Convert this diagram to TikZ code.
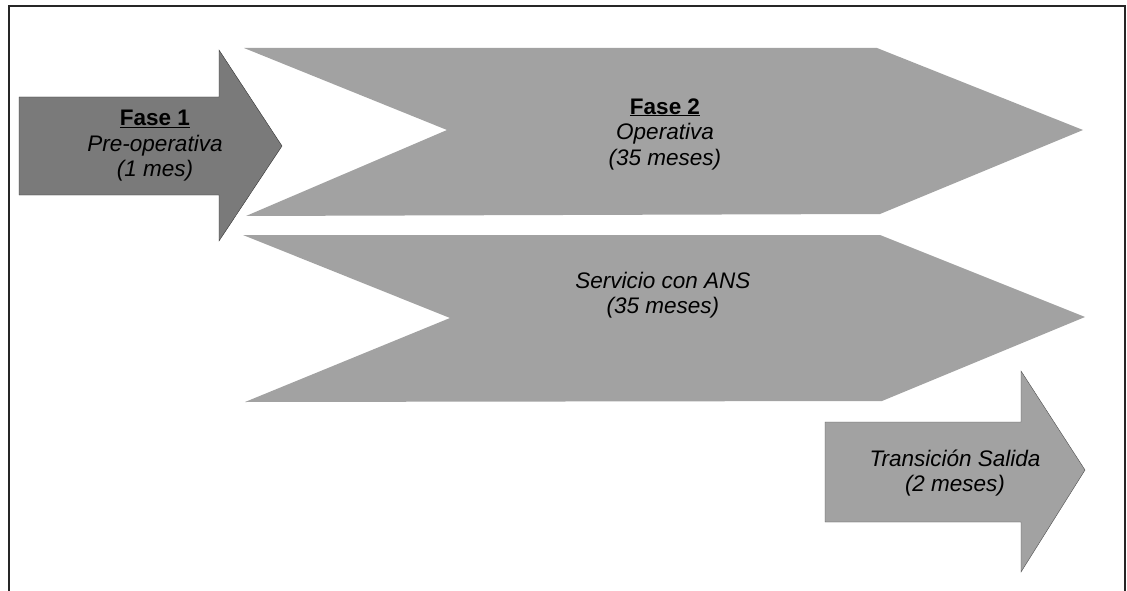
\documentclass[tikz,border=0pt]{standalone}
\usepackage{fontspec}
\setmainfont{Liberation Sans}
\usepackage{xcolor}
\usepackage{tikz}
\definecolor{fasedark}{HTML}{7A7A7A}
\definecolor{faselight}{HTML}{A2A2A2}

\begin{document}
\begin{tikzpicture}[x=1pt,y=-1pt,
  fasetext/.style={align=center,font=\fontsize{22.5}{25.5}\selectfont\itshape}]
  \useasboundingbox (0,0) rectangle (1127,591);
  \draw[black!85, line width=1.2pt] (9,591) -- (9,6) -- (1125,6) -- (1125,591);
  % Fase 1
  \coordinate (P1) at (19,97);   \coordinate (P2) at (219,97);
  \coordinate (P3) at (219,50);  \coordinate (P4) at (282,146);
  \coordinate (P5) at (219,241); \coordinate (P6) at (219,195);
  \coordinate (P7) at (19,195);
  \fill[fasedark, draw=black!80] (P1) -- (P2) -- (P3) -- (P4) -- (P5) -- (P6) -- (P7) -- cycle;
  % Fase 2
  \fill[faselight] (244,48) -- (877,48) -- (1083,130) -- (880,214) -- (246,216) -- (447,130) -- cycle;
  \fill[faselight] (243,235) -- (880,235) -- (1085,317) -- (882,401) -- (245,402) -- (450,318) -- cycle;
  % salida
  \coordinate (S1) at (825,422);  \coordinate (S2) at (1021,422);
  \coordinate (S3) at (1021,371); \coordinate (S4) at (1085,470);
  \coordinate (S5) at (1021,572); \coordinate (S6) at (1021,522);
  \coordinate (S7) at (825,522);
  \fill[faselight, draw=black!70] (S1) -- (S2) -- (S3) -- (S4) -- (S5) -- (S6) -- (S7) -- cycle;
  \node[fasetext] (f1)  at (155,146) {\upshape\bfseries\underline{Fase 1}\\Pre-operativa\\(1 mes)};
  \node[fasetext] (f2)  at (665,134) {\upshape\bfseries\underline{Fase 2}\\Operativa\\(35 meses)};
  \node[fasetext] (ans) at (663,295) {Servicio con ANS\\(35 meses)};
  \node[fasetext] (ts)  at (955,473) {Transición Salida\\(2 meses)};
\end{tikzpicture}
\end{document}
